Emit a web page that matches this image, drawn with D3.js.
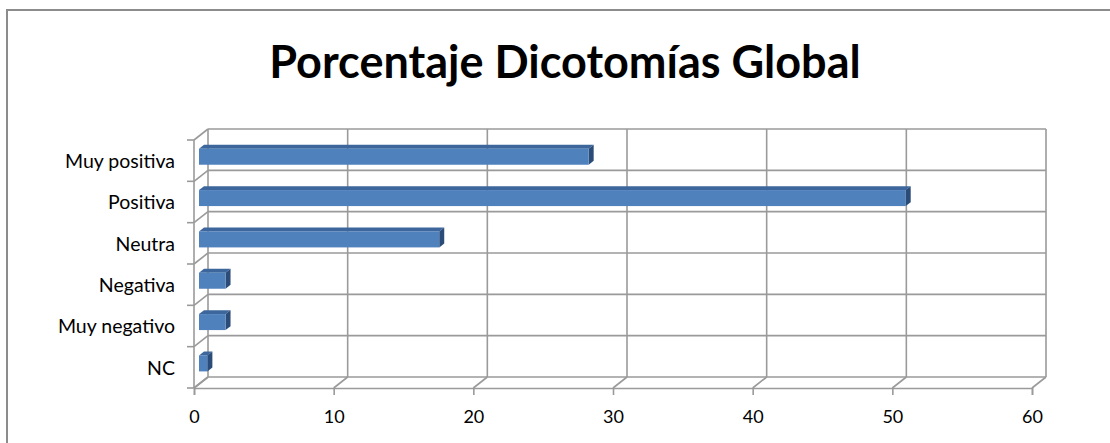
<!DOCTYPE html>
<html>
<head>
<meta charset="utf-8">
<script src="https://cdn.jsdelivr.net/npm/d3@7/dist/d3.min.js"></script>
<style>
  body { margin: 0; background: #fff; }
  svg { display: block; }
  .tick text { font-family: Lato, "Open Sans", sans-serif; fill: #000; }
</style>
</head>
<body>
<div id="chart"></div>
<script>
var categories = ["Muy positiva", "Positiva", "Neutra", "Negativa", "Muy negativo", "NC"];
var values = [27.9, 50.6, 17.2, 1.9, 1.9, 0.6];
var xTicks = [0, 10, 20, 30, 40, 50, 60];
var title = "Porcentaje Dicotomías Global";

var width = 1110, height = 443;
var gridColor = "#9a9a9a";
var depth = 14, slope = 11 / 14;   // wall depth in px and its vertical rise

var svg = d3.select("#chart").append("svg")
  .attr("width", width)
  .attr("height", height);

// chart frame
svg.append("path")
  .attr("d", "M7," + (height + 5) + "V10H" + (width + 5))
  .attr("fill", "none")
  .attr("stroke", "#8c8c8c")
  .attr("stroke-width", 2);

svg.append("text")
  .attr("x", 565)
  .attr("y", 78)
  .attr("text-anchor", "middle")
  .attr("font-family", "Lato, 'Open Sans', sans-serif")
  .attr("font-weight", "bold")
  .attr("font-size", 45)
  .text(title);

var x = d3.scaleLinear().domain([0, 60]).range([194, 1032]);
var y = d3.scaleBand().domain(categories).range([140, 388]);
var bounds = d3.range(categories.length + 1).map(function (i) { return 140 + i * y.step(); });

// shift a front-plane point back by d px of depth
function back(px, py, d) { return [px + d, py - d * slope]; }

var grid = svg.append("g")
  .attr("fill", "none")
  .attr("stroke", gridColor)
  .attr("stroke-width", 1.6);

// back wall horizontals
bounds.forEach(function (b) {
  var p0 = back(x(0), b, depth), p1 = back(x(60), b, depth);
  grid.append("line").attr("x1", p0[0]).attr("y1", p0[1]).attr("x2", p1[0]).attr("y2", p1[1]);
});
// back wall verticals
xTicks.forEach(function (t) {
  var p0 = back(x(t), bounds[0], depth), p1 = back(x(t), bounds[bounds.length - 1], depth);
  grid.append("line").attr("x1", p0[0]).attr("y1", p0[1]).attr("x2", p1[0]).attr("y2", p1[1]);
});
// side wall
grid.append("line").attr("x1", x(0)).attr("y1", bounds[0]).attr("x2", x(0)).attr("y2", bounds[bounds.length - 1]);
bounds.forEach(function (b) {
  var p = back(x(0), b, depth);
  grid.append("line").attr("x1", x(0)).attr("y1", b).attr("x2", p[0]).attr("y2", p[1]);
  grid.append("line").attr("x1", x(0) - 7).attr("y1", b).attr("x2", x(0)).attr("y2", b);
});
// floor
var floorY = bounds[bounds.length - 1];
xTicks.forEach(function (t) {
  var p = back(x(t), floorY, depth);
  grid.append("line").attr("x1", x(t)).attr("y1", floorY).attr("x2", p[0]).attr("y2", p[1]);
});

// x axis (front edge of floor)
var xAxis = svg.append("g")
  .attr("transform", "translate(0," + floorY + ")")
  .call(d3.axisBottom(x).tickValues(xTicks).tickSize(7).tickPadding(15));
xAxis.select(".domain").attr("stroke", gridColor).attr("stroke-width", 1.6);
xAxis.selectAll(".tick line").attr("stroke", gridColor).attr("stroke-width", 1.6);
xAxis.selectAll(".tick text").attr("font-size", 18);

// y axis labels
var yAxis = svg.append("g")
  .attr("transform", "translate(" + x(0) + ",0)")
  .call(d3.axisLeft(y).tickSize(0).tickPadding(19));
yAxis.select(".domain").remove();
yAxis.selectAll(".tick text").attr("font-size", 19.5).attr("dy", "0.38em");

// 3d bars
var barFront = 5, barDepth = 5, barH = 16;
var bars = svg.append("g").selectAll("g")
  .data(categories)
  .join("g");

bars.each(function (c, i) {
  var g = d3.select(this);
  var cy = y(c) + y.bandwidth() / 2 - barFront * slope;
  var x0 = x(0) + barFront, x1 = x(values[i]) + barFront;
  var top = cy - barH / 2, bot = cy + barH / 2;
  var dx = barDepth, dy = barDepth * slope;
  g.append("path")
    .attr("d", "M" + x0 + "," + top + "L" + (x0 + dx) + "," + (top - dy) + "L" + (x1 + dx) + "," + (top - dy) + "L" + x1 + "," + top + "Z")
    .attr("fill", "#3d679c");
  g.append("path")
    .attr("d", "M" + x1 + "," + top + "L" + (x1 + dx) + "," + (top - dy) + "L" + (x1 + dx) + "," + (bot - dy) + "L" + x1 + "," + bot + "Z")
    .attr("fill", "#2b4c78");
  g.append("rect")
    .attr("x", x0)
    .attr("y", top)
    .attr("width", x1 - x0)
    .attr("height", barH)
    .attr("fill", "#4f81bd");
});
</script>
</body>
</html>
